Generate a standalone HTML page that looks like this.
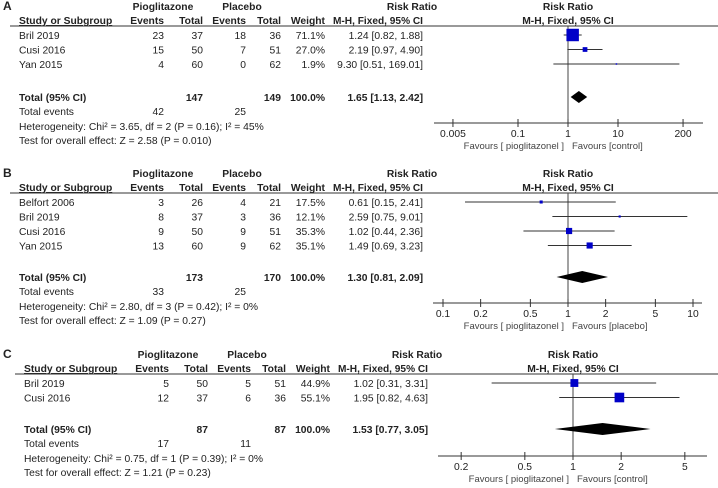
<!DOCTYPE html>
<html><head><meta charset="utf-8">
<style>
html,body{margin:0;padding:0;background:#fff;}
svg{display:block;font-family:"Liberation Sans",Arial,sans-serif;}
</style></head>
<body>
<svg id="chart" width="718" height="488" viewBox="0 0 718 488" xmlns="http://www.w3.org/2000/svg"></svg>
<script>
// ---- Data ----
const panelLabels = ["A", "B", "C"];
const studiesA = ["Bril 2019", "Cusi 2016", "Yan 2015"];
const pioEventsA = [23, 15, 4];
const pioTotalA = [37, 50, 60];
const plaEventsA = [18, 7, 0];
const plaTotalA = [36, 51, 62];
const weightsA = [71.1, 27.0, 1.9];
const rrA = [1.24, 2.19, 9.30];
const lowA = [0.82, 0.97, 0.51];
const highA = [1.88, 4.90, 169.01];
const totalA = [147, 149, 1.65, 1.13, 2.42];
const eventsA = [42, 25];
const hetA = "Heterogeneity: Chi² = 3.65, df = 2 (P = 0.16); I² = 45%";
const testA = "Test for overall effect: Z = 2.58 (P = 0.010)";
const ticksA = [0.005, 0.1, 1, 10, 200];
const tickLabelsA = ["0.005", "0.1", "1", "10", "200"];
const favA = ["Favours [ pioglitazonel ]", "Favours [control]"];

const studiesB = ["Belfort 2006", "Bril 2019", "Cusi 2016", "Yan 2015"];
const pioEventsB = [3, 8, 9, 13];
const pioTotalB = [26, 37, 50, 60];
const plaEventsB = [4, 3, 9, 9];
const plaTotalB = [21, 36, 51, 62];
const weightsB = [17.5, 12.1, 35.3, 35.1];
const rrB = [0.61, 2.59, 1.02, 1.49];
const lowB = [0.15, 0.75, 0.44, 0.69];
const highB = [2.41, 9.01, 2.36, 3.23];
const totalB = [173, 170, 1.30, 0.81, 2.09];
const eventsB = [33, 25];
const hetB = "Heterogeneity: Chi² = 2.80, df = 3 (P = 0.42); I² = 0%";
const testB = "Test for overall effect: Z = 1.09 (P = 0.27)";
const ticksB = [0.1, 0.2, 0.5, 1, 2, 5, 10];
const tickLabelsB = ["0.1", "0.2", "0.5", "1", "2", "5", "10"];
const favB = ["Favours [ pioglitazonel ]", "Favours [placebo]"];

const studiesC = ["Bril 2019", "Cusi 2016"];
const pioEventsC = [5, 12];
const pioTotalC = [50, 37];
const plaEventsC = [5, 6];
const plaTotalC = [51, 36];
const weightsC = [44.9, 55.1];
const rrC = [1.02, 1.95];
const lowC = [0.31, 0.82];
const highC = [3.31, 4.63];
const totalC = [87, 87, 1.53, 0.77, 3.05];
const eventsC = [17, 11];
const hetC = "Heterogeneity: Chi² = 0.75, df = 1 (P = 0.39); I² = 0%";
const testC = "Test for overall effect: Z = 1.21 (P = 0.23)";
const ticksC = [0.2, 0.5, 1, 2, 5];
const tickLabelsC = ["0.2", "0.5", "1", "2", "5"];
const favC = ["Favours [ pioglitazonel ]", "Favours [control]"];

const FS = 10.3;
const NS = "http://www.w3.org/2000/svg";
const svg = document.getElementById("chart");
function mk(tag, attrs, parent, txt) {
  const e = document.createElementNS(NS, tag);
  for (const k in attrs) e.setAttribute(k, attrs[k]);
  if (txt !== undefined) e.textContent = txt;
  (parent || svg).appendChild(e);
  return e;
}
function fmt(v){return v.toFixed(2);}

function panel(cfg) {
  const g = mk("g", {});
  
  
  const dx = cfg.dx, T = cfg.top;
  const xAx = v => cfg.center + cfg.dec * Math.log10(v);
  const t = (x, y, s, o) => mk("text", Object.assign({x: x, y: y, "font-size": FS, fill: "#222"}, o || {}), g, s);
  const lab = t(3, T + 4, cfg.label, {"font-weight": "bold", "font-size": 12});
  
  
  t(163 + dx, T + 4, "Pioglitazone", {"font-weight": "bold", "text-anchor": "middle"});
  t(242 + dx, T + 4, "Placebo", {"font-weight": "bold", "text-anchor": "middle"});
  t(412 + dx, T + 4, "Risk Ratio", {"font-weight": "bold", "text-anchor": "middle"});
  t(cfg.center, T + 4, "Risk Ratio", {"font-weight": "bold", "text-anchor": "middle"});
  const hy = T + 18;
  t(19 + dx, hy, "Study or Subgroup", {"font-weight": "bold", "text-decoration": "underline"});
  t(164 + dx, hy, "Events", {"font-weight": "bold", "text-anchor": "end"});
  t(203 + dx, hy, "Total", {"font-weight": "bold", "text-anchor": "end"});
  t(246 + dx, hy, "Events", {"font-weight": "bold", "text-anchor": "end"});
  t(281 + dx, hy, "Total", {"font-weight": "bold", "text-anchor": "end"});
  t(325 + dx, hy, "Weight", {"font-weight": "bold", "text-anchor": "end"});
  t(333 + dx, hy, "M-H, Fixed, 95% CI", {"font-weight": "bold", textLength: 90, lengthAdjust: "spacingAndGlyphs"});
  t(cfg.center, hy, "M-H, Fixed, 95% CI", {"font-weight": "bold", "text-anchor": "middle"});
  const line = mk("line", {x1: 10 + dx, x2: 718, y1: T + 20, y2: T + 20, stroke: "#333", "stroke-width": 1}, g);
  
  
  mk("line", {x1: xAx(1), x2: xAx(1), y1: T + 20, y2: cfg.axisY, stroke: "#444", "stroke-width": 1}, g);
  cfg.studies.forEach((s, i) => {
    const y = T + 29 + i * 14.5;
    const row = mk("g", {}, g);
    
    
    const tt = (x, str, o) => mk("text", Object.assign({x: x, y: y + 4, "font-size": FS, fill: "#222", "text-anchor": "end"}, o || {}), row, str);
    tt(19 + dx, s, {"text-anchor": "start"});
    tt(164 + dx, cfg.pe[i]); tt(203 + dx, cfg.pt[i]);
    tt(246 + dx, cfg.ce[i]); tt(281 + dx, cfg.ct[i]);
    tt(325 + dx, cfg.w[i].toFixed(1) + "%");
    tt(423 + dx, fmt(cfg.rr[i]) + " [" + fmt(cfg.lo[i]) + ", " + fmt(cfg.hi[i]) + "]");
    const ci = mk("line", {x1: xAx(cfg.lo[i]), x2: xAx(cfg.hi[i]), y1: y, y2: y, stroke: "#333", "stroke-width": 1}, row);
    
    
    const sz = Math.max(1.5, cfg.w[i] * 0.175);
    const b = mk("rect", {x: xAx(cfg.rr[i]) - sz / 2, y: y - sz / 2, width: sz, height: sz, fill: "#0000c8"}, row);
    
    
  });
  const ty = cfg.totalY;
  t(19 + dx, ty + 4, "Total (95% CI)", {"font-weight": "bold"});
  t(203 + dx, ty + 4, cfg.tot[0], {"font-weight": "bold", "text-anchor": "end"});
  t(281 + dx, ty + 4, cfg.tot[1], {"font-weight": "bold", "text-anchor": "end"});
  t(325 + dx, ty + 4, "100.0%", {"font-weight": "bold", "text-anchor": "end"});
  t(423 + dx, ty + 4, fmt(cfg.tot[2]) + " [" + fmt(cfg.tot[3]) + ", " + fmt(cfg.tot[4]) + "]", {"font-weight": "bold", "text-anchor": "end"});
  const xl = xAx(cfg.tot[3]), xm = xAx(cfg.tot[2]), xr = xAx(cfg.tot[4]);
  const d = mk("polygon", {points: `${xl},${ty} ${xm},${ty - 6} ${xr},${ty} ${xm},${ty + 6}`, fill: "#000"}, g);
  
  
  t(19 + dx, ty + 18, "Total events");
  t(164 + dx, ty + 18, cfg.ev[0], {"text-anchor": "end"});
  t(246 + dx, ty + 18, cfg.ev[1], {"text-anchor": "end"});
  t(19 + dx, ty + 33, cfg.het);
  t(19 + dx, ty + 47, cfg.test);
  const ax = mk("g", {}, g);
  
  
  mk("line", {x1: cfg.axX[0], x2: cfg.axX[1], y1: cfg.axisY, y2: cfg.axisY, stroke: "#333"}, ax);
  cfg.ticks.forEach((v, i) => {
    const x = xAx(v);
    mk("line", {x1: x, x2: x, y1: cfg.axisY - 4, y2: cfg.axisY + 4, stroke: "#333"}, ax);
    mk("text", {x: x, y: cfg.axisY + 14, "font-size": FS, fill: "#222", "text-anchor": "middle"}, ax, cfg.tl[i]);
  });
  mk("text", {x: xAx(1) - 4, y: cfg.axisY + 26, "font-size": 9.5, fill: "#444", "text-anchor": "end"}, ax, cfg.fav[0]);
  mk("text", {x: xAx(1) + 4, y: cfg.axisY + 26, "font-size": 9.5, fill: "#444", "text-anchor": "start"}, ax, cfg.fav[1]);
}

panel({label: panelLabels[0], dx: 0, top: 6, center: 568, dec: 50, axisY: 123, axX: [434, 703], totalY: 97,
  studies: studiesA, pe: pioEventsA, pt: pioTotalA, ce: plaEventsA, ct: plaTotalA, w: weightsA, rr: rrA, lo: lowA, hi: highA,
  tot: totalA, ev: eventsA, het: hetA, test: testA, ticks: ticksA, tl: tickLabelsA, fav: favA});
panel({label: panelLabels[1], dx: 0, top: 173, center: 568, dec: 125, axisY: 303, axX: [433, 702], totalY: 277,
  studies: studiesB, pe: pioEventsB, pt: pioTotalB, ce: plaEventsB, ct: plaTotalB, w: weightsB, rr: rrB, lo: lowB, hi: highB,
  tot: totalB, ev: eventsB, het: hetB, test: testB, ticks: ticksB, tl: tickLabelsB, fav: favB});
panel({label: panelLabels[2], dx: 5, top: 354, center: 573, dec: 160, axisY: 456, axX: [438, 707], totalY: 429,
  studies: studiesC, pe: pioEventsC, pt: pioTotalC, ce: plaEventsC, ct: plaTotalC, w: weightsC, rr: rrC, lo: lowC, hi: highC,
  tot: totalC, ev: eventsC, het: hetC, test: testC, ticks: ticksC, tl: tickLabelsC, fav: favC});
</script>
</body></html>
